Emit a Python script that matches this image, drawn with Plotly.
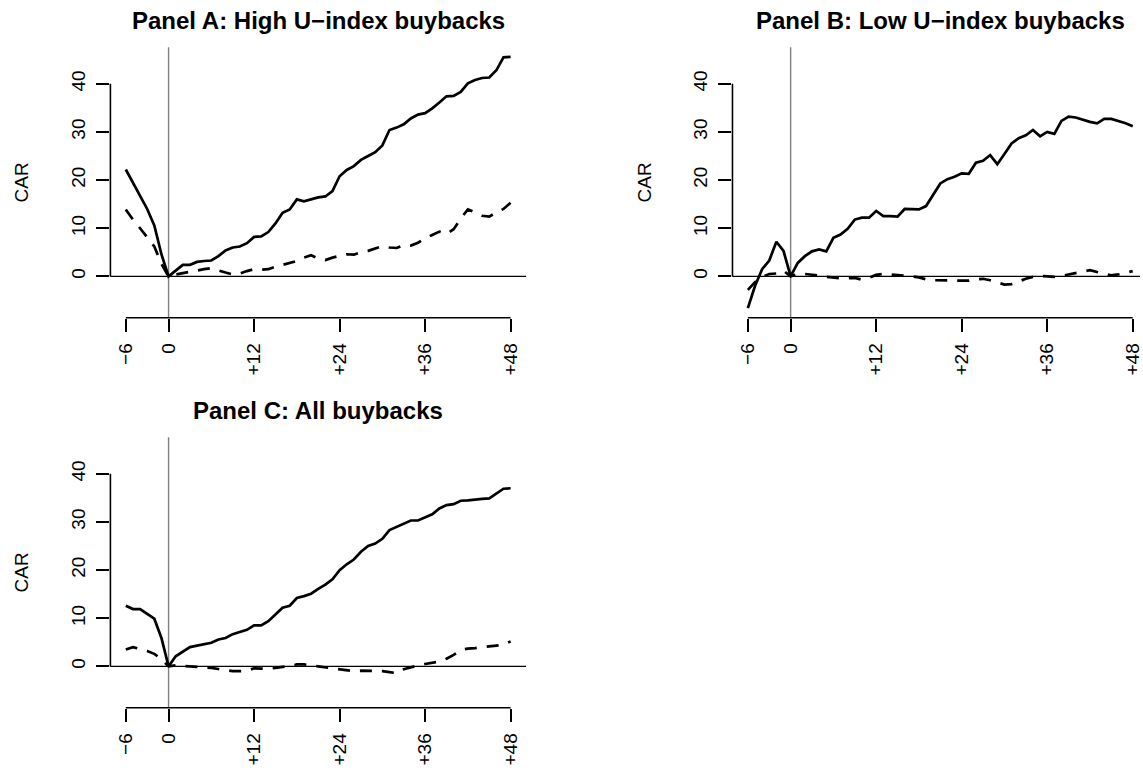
import plotly.graph_objects as go

# Event time in months relative to the buyback announcement
MONTHS = list(range(-6, 49))

# Panel A: High U-index buybacks
A_SOLID = [22.2, 19.5, 16.8, 14.0, 10.6, 4.6,
           0.0, 1.2, 2.4, 2.4, 3.0, 3.2, 3.3, 4.2, 5.4, 6.0, 6.2, 6.9, 8.2, 8.3, 9.2,
           11.0, 13.2, 13.9, 16.0, 15.6, 16.0, 16.4, 16.6, 17.7, 20.8, 22.1, 22.9,
           24.2, 25.0, 25.8, 27.2, 30.4, 30.9, 31.6, 32.8, 33.6, 33.9, 34.9, 36.1,
           37.4, 37.5, 38.3, 40.1, 40.8, 41.2, 41.3, 42.8, 45.5, 45.6]
A_DASH = [13.9, 11.8, 10.0, 8.0, 6.2, 2.6,
          0.0, 0.4, 0.7, 1.0, 1.2, 1.5, 1.7, 1.2, 0.8, 0.4, 0.6, 1.1, 1.5, 1.4, 1.5,
          2.0, 2.4, 2.8, 3.2, 3.9, 4.4, 3.7, 3.4, 3.9, 4.3, 4.6, 4.5, 5.0, 5.3, 5.8,
          6.3, 6.0, 5.9, 6.5, 6.4, 7.0, 7.9, 8.6, 9.3, 8.8, 9.8, 12.0, 13.9, 13.3,
          12.6, 12.4, 13.3, 14.0, 15.3]

# Panel B: Low U-index buybacks
B_SOLID = [-6.6, -2.0, 1.5, 3.3, 7.2, 5.3,
           0.0, 2.8, 4.2, 5.2, 5.6, 5.2, 8.0, 8.7, 9.9, 11.8, 12.2, 12.2, 13.6, 12.5,
           12.5, 12.4, 14.0, 13.9, 13.9, 14.6, 17.0, 19.3, 20.2, 20.7, 21.4, 21.3,
           23.6, 24.0, 25.2, 23.3, 25.4, 27.6, 28.7, 29.3, 30.4, 29.1, 30.0, 29.6,
           32.3, 33.2, 33.0, 32.5, 32.1, 31.8, 32.7, 32.7, 32.3, 31.8, 31.2]
B_DASH = [-2.8, -1.2, -0.1, 0.5, 0.6, 1.2,
          0.0, 0.5, 0.5, 0.4, 0.2, -0.1, -0.3, -0.4, -0.4, -0.3, -0.7, -0.3, 0.3,
          0.5, 0.4, 0.3, 0.2, 0.0, -0.2, -0.6, -0.8, -0.8, -0.8, -0.8, -0.8, -0.9,
          -0.6, -0.5, -0.8, -1.3, -1.7, -1.6, -1.0, -0.5, -0.1, 0.1, 0.0, -0.1, 0.1,
          0.4, 0.7, 1.0, 1.3, 0.9, 0.5, 0.2, 0.4, 0.8, 1.1]

# Panel C: All buybacks
C_SOLID = [12.6, 11.9, 11.9, 10.9, 9.9, 5.9,
           0.0, 2.1, 3.1, 4.0, 4.3, 4.6, 4.9, 5.6, 5.9, 6.7, 7.2, 7.6, 8.5, 8.5, 9.4,
           10.8, 12.2, 12.6, 14.2, 14.6, 15.1, 16.1, 17.0, 18.1, 20.0, 21.2, 22.2,
           23.8, 25.0, 25.5, 26.5, 28.3, 29.0, 29.7, 30.3, 30.3, 31.0, 31.6, 32.8,
           33.5, 33.7, 34.4, 34.5, 34.7, 34.8, 34.9, 35.9, 36.9, 37.0]
C_DASH = [3.5, 4.0, 3.6, 3.2, 2.6, 1.5,
          0.0, 0.2, 0.1, 0.0, -0.1, -0.15, -0.3, -0.55, -0.8, -1.0, -1.0, -0.9, -0.4,
          -0.4, -0.5, -0.3, -0.15, 0.1, 0.4, 0.4, 0.2, 0.0, -0.15, -0.4, -0.7, -0.9,
          -1.0, -0.9, -0.9, -1.0, -1.0, -1.2, -1.4, -0.6, -0.15, 0.2, 0.5, 0.7, 1.0,
          1.6, 2.4, 3.4, 3.7, 3.8, 4.0, 4.2, 4.3, 4.5, 5.2]

TITLES = ["Panel A: High U\u2212index buybacks",
          "Panel B: Low U\u2212index buybacks",
          "Panel C: All buybacks"]
X_TICKS = [-6, 0, 12, 24, 36, 48]
X_TICK_TEXT = ["\u22126", "0", "+12", "+24", "+36", "+48"]
Y_TICKS = [0, 10, 20, 30, 40]
Y_LABEL = "CAR"

W, H = 1143, 768
FONT = "Liberation Sans, Arial, Helvetica, sans-serif"

# plot boxes in pixels: (left, right, top, bottom) and x-range
PANELS = [
    dict(box=(110.7, 527.4, 47.3, 317.7), xr=[-8.16, 50.16],
         solid=A_SOLID, dash=A_DASH, title=TITLES[0]),
    dict(box=(734.4, 1143.0, 47.3, 317.7), xr=[-8.16, 49.02],
         solid=B_SOLID, dash=B_DASH, title=TITLES[1]),
    dict(box=(110.7, 527.4, 437.3, 707.7), xr=[-8.16, 50.16],
         solid=C_SOLID, dash=C_DASH, title=TITLES[2]),
]
Y_RANGE = [-8.58, 47.58]
TITLE_CX = [319.0, 942.7, 319.0]

fig = go.Figure()
shapes = []
annotations = []

for i, p in enumerate(PANELS):
    n = "" if i == 0 else str(i + 1)
    xa, ya = "x" + n, "y" + n
    left, right, top, bottom = p["box"]

    fig.add_trace(go.Scatter(x=MONTHS, y=p["solid"], mode="lines",
                             line=dict(color="black", width=2.7),
                             xaxis=xa, yaxis=ya, showlegend=False))
    fig.add_trace(go.Scatter(x=MONTHS, y=p["dash"], mode="lines",
                             line=dict(color="black", width=2.7, dash="12px,10px"),
                             xaxis=xa, yaxis=ya, showlegend=False))

    common = dict(showgrid=False, zeroline=False, showline=False,
                  ticks="outside", ticklen=13, tickwidth=1.6, tickcolor="black",
                  tickangle=-90, ticklabelstandoff=4, ticklabeloverflow="allow",
                  tickfont=dict(family=FONT, size=19, color="black"),
                  fixedrange=True)
    fig.update_layout(**{
        "xaxis" + n: dict(domain=[left / W, right / W], range=p["xr"],
                          anchor=ya, tickmode="array", tickvals=X_TICKS,
                          ticktext=X_TICK_TEXT, **common),
        "yaxis" + n: dict(domain=[1 - bottom / H, 1 - top / H], range=Y_RANGE,
                          anchor=xa, tickmode="array", tickvals=Y_TICKS,
                          ticktext=[str(v) for v in Y_TICKS], **common),
    })

    # reference lines at zero
    shapes.append(dict(type="line", xref=xa + " domain", yref=ya, x0=0, x1=1,
                       y0=0, y1=0, line=dict(color="black", width=1.2), layer="below"))
    shapes.append(dict(type="line", xref=xa, yref=ya + " domain", x0=0, x1=0,
                       y0=0, y1=1, line=dict(color="#808080", width=1.4), layer="below"))
    # axis lines spanning first to last tick
    shapes.append(dict(type="line", xref=xa, yref=ya + " domain",
                       x0=X_TICKS[0], x1=X_TICKS[-1], y0=0, y1=0,
                       line=dict(color="black", width=1.6)))
    shapes.append(dict(type="line", xref=xa + " domain", yref=ya,
                       x0=0, x1=0, y0=Y_TICKS[0], y1=Y_TICKS[-1],
                       line=dict(color="black", width=1.6)))

    annotations.append(dict(text="<b>" + p["title"] + "</b>", xref="paper", yref="paper",
                            x=TITLE_CX[i] / W, y=1 - (top - 27) / H,
                            xanchor="center", yanchor="middle", showarrow=False,
                            font=dict(family=FONT, size=24, color="black")))
    annotations.append(dict(text=Y_LABEL, xref="paper", yref="paper",
                            x=(left - 88.7) / W, y=1 - ((top + bottom) / 2) / H,
                            xanchor="center", yanchor="middle", textangle=-90,
                            showarrow=False,
                            font=dict(family=FONT, size=19, color="black")))

fig.update_layout(width=W, height=H, autosize=False,
                  margin=dict(l=0, r=0, t=0, b=0),
                  paper_bgcolor="white", plot_bgcolor="white",
                  shapes=shapes, annotations=annotations)

fig.write_html("out.html", config={"displayModeBar": False})
